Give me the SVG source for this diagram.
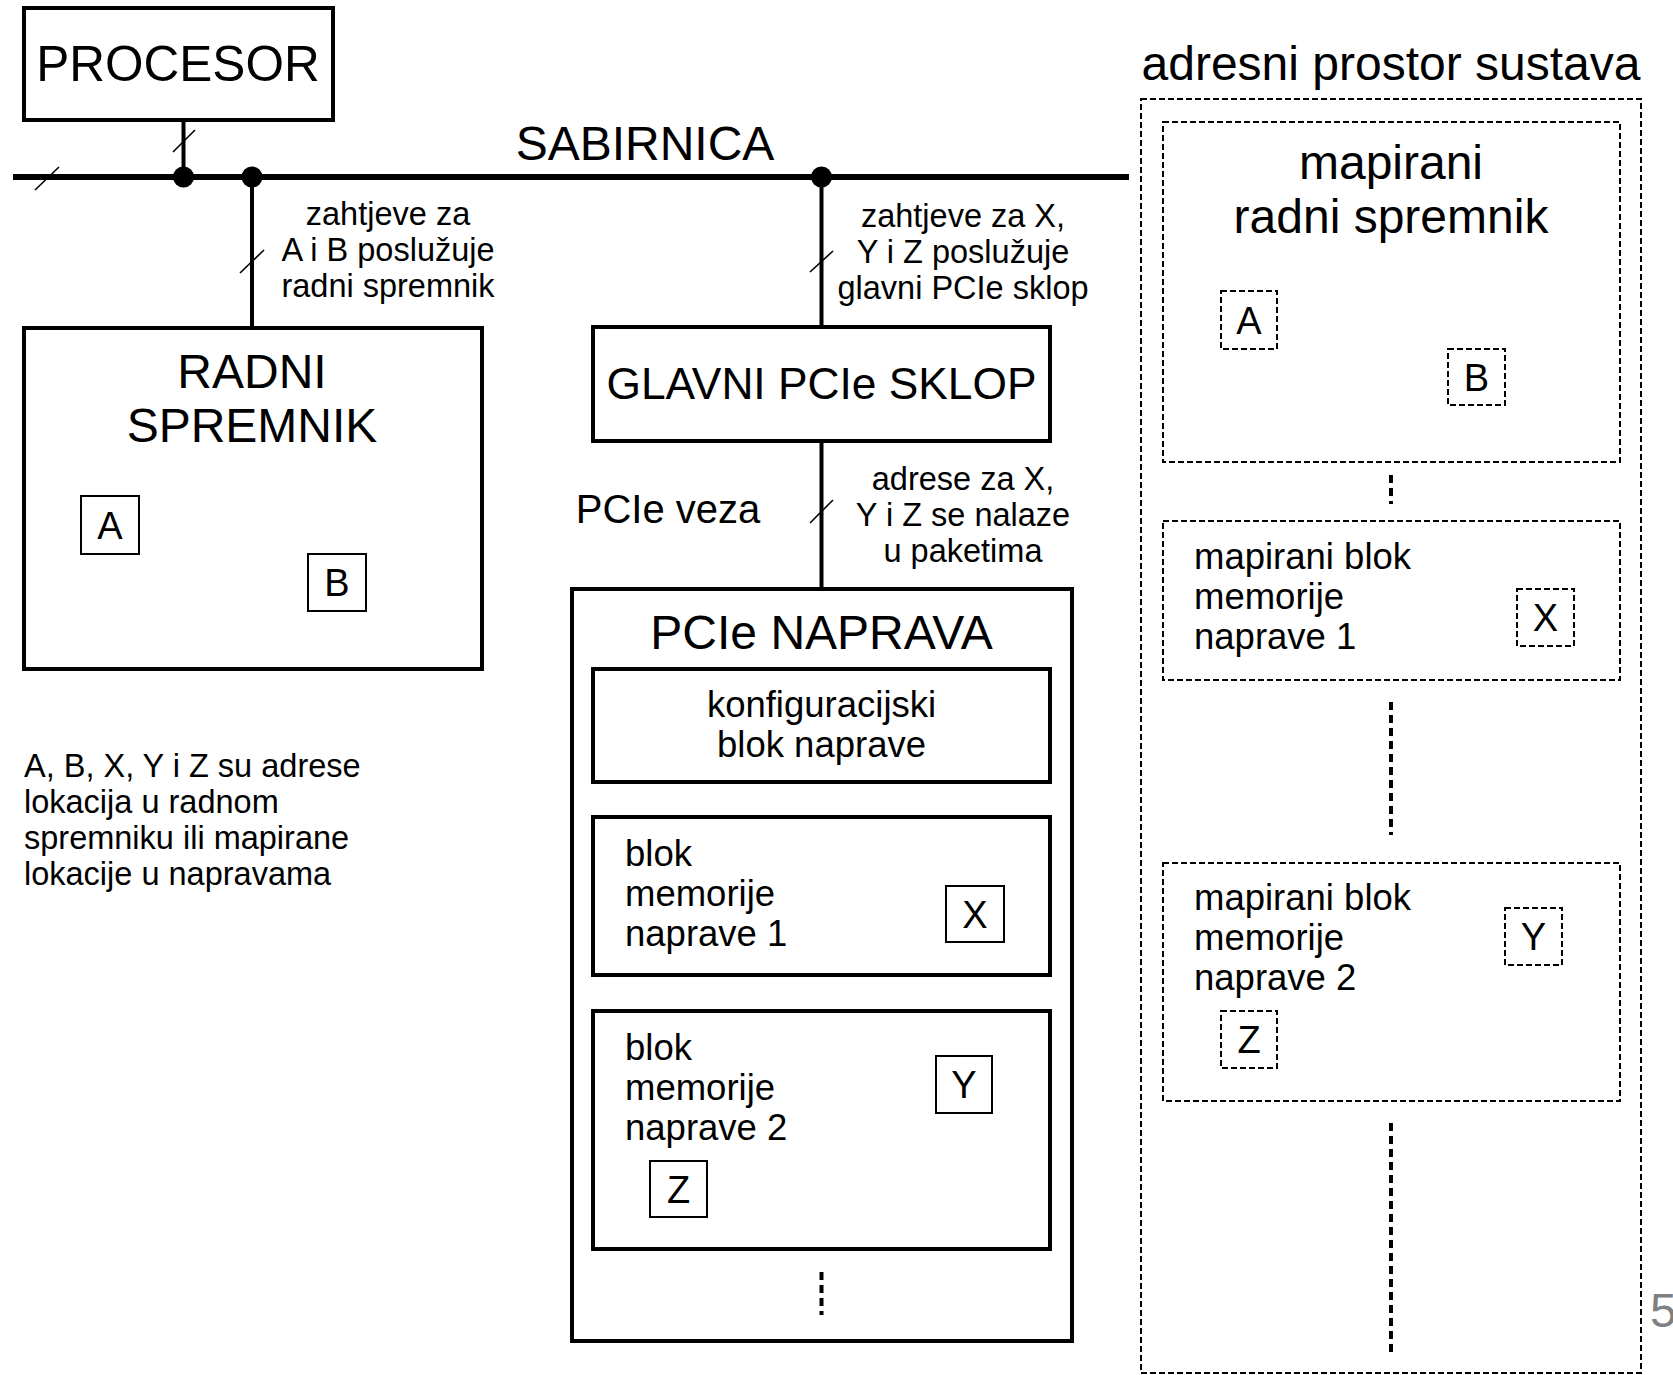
<svg xmlns="http://www.w3.org/2000/svg" width="1673" height="1375" viewBox="0 0 1673 1375">
<style>
text{font-family:"Liberation Sans",Arial,sans-serif;fill:#000}
.big{font-size:48px}
.mid{font-size:36.5px}
.sm{font-size:32.5px}
.let{font-size:38px}
.c{text-anchor:middle}
.box{fill:#fff;stroke:#000;stroke-width:4}
.tiny{fill:#fff;stroke:#000;stroke-width:2}
.dbox{fill:none;stroke:#000;stroke-width:2;stroke-dasharray:6 3}
.wire{stroke:#000;stroke-width:4;fill:none}
.bus{stroke:#000;stroke-width:6;fill:none}
.slash{stroke:#000;stroke-width:1.6;fill:none}
.dots{stroke:#000;stroke-width:4;stroke-dasharray:8 5;fill:none}
</style>
<rect width="1673" height="1375" fill="#fff"/>

<g id="connectors">
<line class="bus" x1="13" y1="177" x2="1129" y2="177"/>
<line class="wire" x1="183.5" y1="120" x2="183.5" y2="177"/>
<line class="wire" x1="252" y1="177" x2="252" y2="327"/>
<line class="wire" x1="821.5" y1="177" x2="821.5" y2="327"/>
<line class="wire" x1="821.5" y1="441" x2="821.5" y2="588"/>
<circle cx="183.5" cy="177" r="10.5"/>
<circle cx="252" cy="177" r="10.5"/>
<circle cx="821.5" cy="177" r="10.5"/>
<line class="slash" x1="35" y1="190" x2="59" y2="167"/>
<line class="slash" x1="173" y1="152" x2="195" y2="130"/>
<line class="slash" x1="240" y1="273" x2="264" y2="250"/>
<line class="slash" x1="810" y1="272" x2="833" y2="251"/>
<line class="slash" x1="810" y1="523" x2="833" y2="500"/>
</g>

<g id="sabirnica"><text class="big c" x="645" y="160">SABIRNICA</text></g>

<g id="procesor">
<rect class="box" x="24" y="8" width="309" height="112"/>
<text class="big c" x="178" y="81" style="font-size:49.5px">PROCESOR</text>
</g>

<g id="label-ab">
<text class="sm c" x="388" y="225">zahtjeve za</text>
<text class="sm c" x="388" y="261">A i B poslužuje</text>
<text class="sm c" x="388" y="297">radni spremnik</text>
</g>

<g id="label-xyz">
<text class="sm c" x="963" y="227">zahtjeve za X,</text>
<text class="sm c" x="963" y="263">Y i Z poslužuje</text>
<text class="sm c" x="963" y="299">glavni PCIe sklop</text>
</g>

<g id="radni">
<rect class="box" x="24" y="328" width="458" height="341"/>
<text class="big c" x="252" y="388">RADNI</text>
<text class="big c" x="252" y="442">SPREMNIK</text>
<rect class="tiny" x="81" y="496" width="58" height="58"/>
<text class="let c" x="110" y="539">A</text>
<rect class="tiny" x="308" y="554" width="58" height="57"/>
<text class="let c" x="337" y="596">B</text>
</g>

<g id="note">
<text class="sm" x="24" y="777">A, B, X, Y i Z su adrese</text>
<text class="sm" x="24" y="813">lokacija u radnom</text>
<text class="sm" x="24" y="849">spremniku ili mapirane</text>
<text class="sm" x="24" y="885">lokacije u napravama</text>
</g>

<g id="glavni">
<rect class="box" x="593" y="327" width="457" height="114"/>
<text class="big c" x="821.5" y="399" style="font-size:44.3px">GLAVNI PCIe SKLOP</text>
</g>

<g id="pcie-veza"><text class="c" x="668" y="523" style="font-size:40px">PCIe veza</text></g>

<g id="label-paketi">
<text class="sm c" x="963" y="490">adrese za X,</text>
<text class="sm c" x="963" y="526">Y i Z se nalaze</text>
<text class="sm c" x="963" y="562">u paketima</text>
</g>

<g id="naprava">
<rect class="box" x="572" y="589" width="500" height="752"/>
<text class="big c" x="821.5" y="649">PCIe NAPRAVA</text>
<g id="konfig">
<rect class="box" x="593" y="669" width="457" height="113"/>
<text class="mid c" x="821.5" y="717">konfiguracijski</text>
<text class="mid c" x="821.5" y="757">blok naprave</text>
</g>
<g id="blok1">
<rect class="box" x="593" y="817" width="457" height="158"/>
<text class="mid" x="625" y="866">blok</text>
<text class="mid" x="625" y="906">memorije</text>
<text class="mid" x="625" y="946">naprave 1</text>
<rect class="tiny" x="946" y="886" width="58" height="56"/>
<text class="let c" x="975" y="928">X</text>
</g>
<g id="blok2">
<rect class="box" x="593" y="1011" width="457" height="238"/>
<text class="mid" x="625" y="1060">blok</text>
<text class="mid" x="625" y="1100">memorije</text>
<text class="mid" x="625" y="1140">naprave 2</text>
<rect class="tiny" x="936" y="1056" width="56" height="57"/>
<text class="let c" x="964" y="1098">Y</text>
<rect class="tiny" x="650" y="1161" width="57" height="56"/>
<text class="let c" x="678.5" y="1203">Z</text>
</g>
<line class="dots" x1="821.5" y1="1272" x2="821.5" y2="1315"/>
</g>

<g id="adresni-prostor">
<text class="c" x="1391" y="80" style="font-size:48px">adresni prostor sustava</text>
<rect class="dbox" x="1141" y="99" width="500" height="1274"/>
<g id="map-radni">
<rect class="dbox" x="1163" y="122" width="457" height="340"/>
<text class="c" x="1391" y="179" style="font-size:48px">mapirani</text>
<text class="c" x="1391" y="233" style="font-size:48px">radni spremnik</text>
<rect class="dbox" x="1221" y="291" width="56" height="58"/>
<text class="let c" x="1249" y="334">A</text>
<rect class="dbox" x="1448" y="349" width="57" height="56"/>
<text class="let c" x="1476.5" y="391">B</text>
</g>
<line class="dots" x1="1391" y1="475" x2="1391" y2="504"/>
<g id="map-blok1">
<rect class="dbox" x="1163" y="521" width="457" height="159"/>
<text class="mid" x="1194" y="569">mapirani blok</text>
<text class="mid" x="1194" y="609">memorije</text>
<text class="mid" x="1194" y="649">naprave 1</text>
<rect class="dbox" x="1517" y="589" width="57" height="57"/>
<text class="let c" x="1545.5" y="631">X</text>
</g>
<line class="dots" x1="1391" y1="702" x2="1391" y2="835"/>
<g id="map-blok2">
<rect class="dbox" x="1163" y="863" width="457" height="238"/>
<text class="mid" x="1194" y="910">mapirani blok</text>
<text class="mid" x="1194" y="950">memorije</text>
<text class="mid" x="1194" y="990">naprave 2</text>
<rect class="dbox" x="1505" y="908" width="57" height="57"/>
<text class="let c" x="1533.5" y="950">Y</text>
<rect class="dbox" x="1221" y="1011" width="56" height="57"/>
<text class="let c" x="1249" y="1053">Z</text>
</g>
<line class="dots" x1="1391" y1="1123" x2="1391" y2="1352"/>
</g>

<g id="page-number"><text x="1650" y="1327" style="font-size:48px;fill:#808080">5</text></g>
</svg>
